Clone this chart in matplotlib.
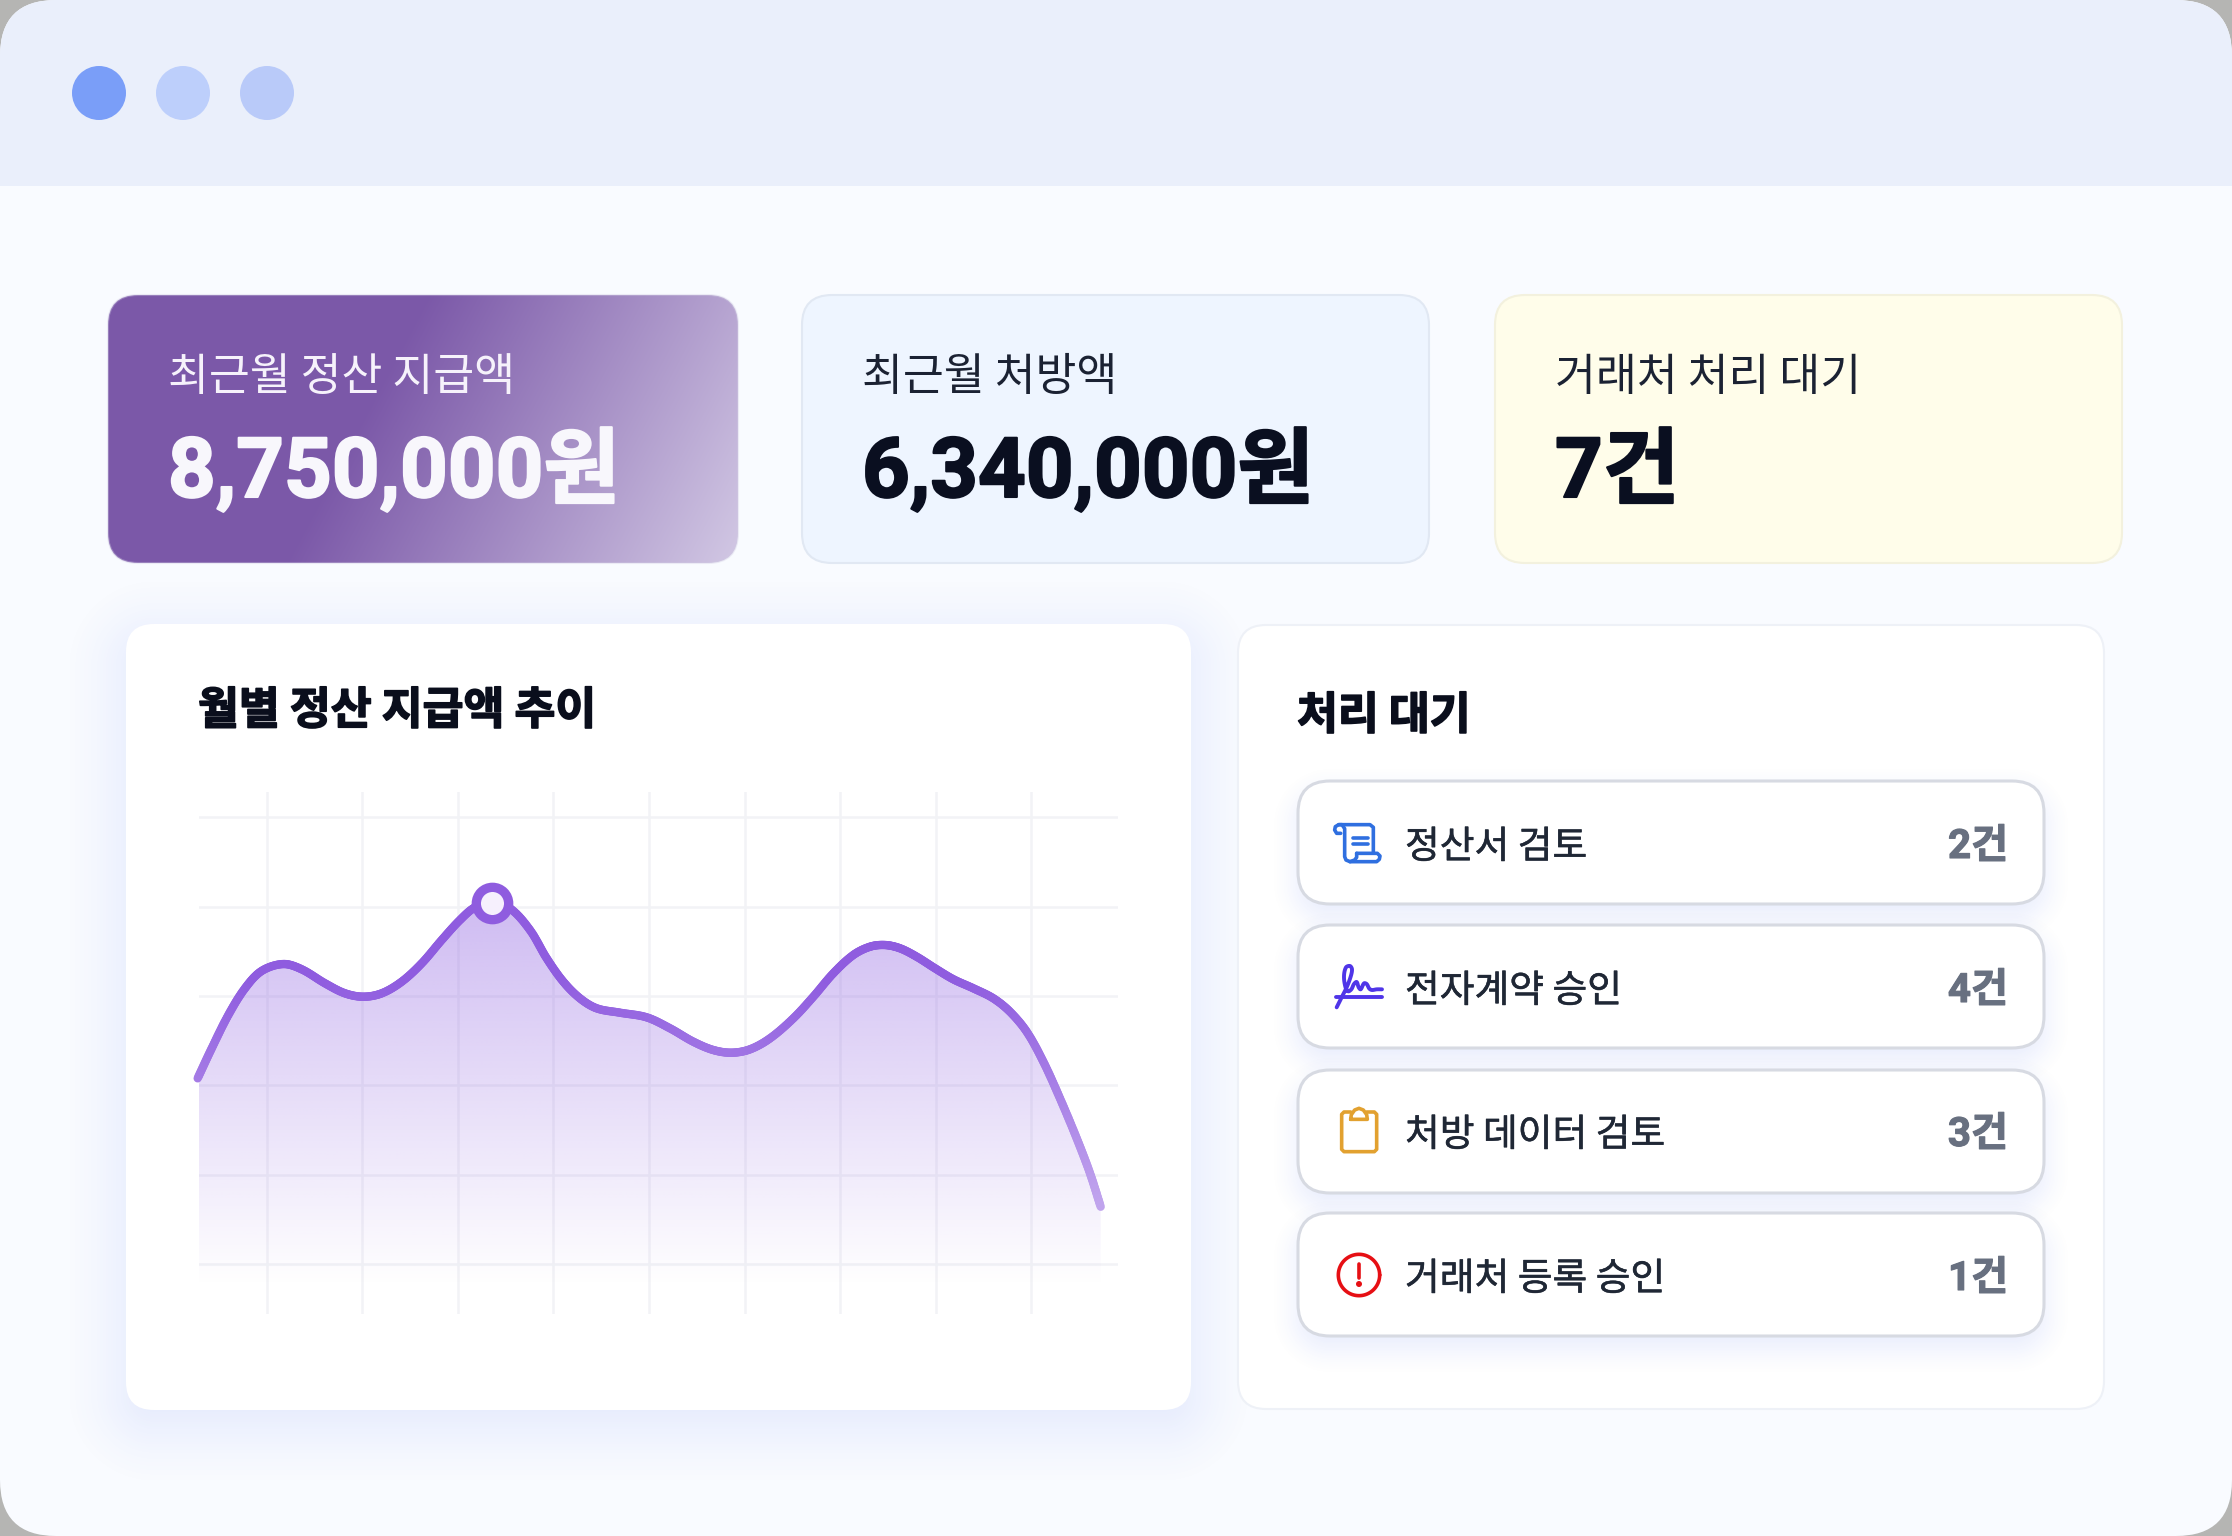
import numpy as np
import matplotlib
matplotlib.use('Agg')
import matplotlib.pyplot as plt
import matplotlib.patheffects as pe
from matplotlib.collections import LineCollection
from matplotlib.colors import to_rgb
from matplotlib.patches import Circle, FancyBboxPatch, Polygon, Rectangle

KR = ['Noto Sans CJK KR', 'DejaVu Sans']
NUM = ['Roboto', 'Noto Sans CJK KR', 'DejaVu Sans']
plt.rcParams['font.family'] = KR

W, H = 2232, 1536

# kpi cards
card_labels = ['최근월 정산 지급액', '최근월 처방액', '거래처 처리 대기']
card_values = ['8,750,000원', '6,340,000원', '7건']

# pending list
pending_names = ['정산서 검토', '전자계약 승인', '처방 데이터 검토', '거래처 등록 승인']
pending_counts = ['2건', '4건', '3건', '1건']

# monthly line, position in grid cells and height in grid rows
month_pos = [-0.014, 0.133, 0.307, 0.481, 0.656, 0.882, 1.074, 1.318, 1.527, 1.719, 1.911,
             2.12, 2.33, 2.539, 2.73, 2.887, 3.062, 3.253, 3.462, 3.637, 3.811, 3.985,
             4.16, 4.404, 4.683, 4.927, 5.171, 5.38, 5.572, 5.764, 5.973, 6.217, 6.426,
             6.635, 6.844, 7.019, 7.176, 7.333, 7.507, 7.699, 7.891, 8.1, 8.309, 8.483,
             8.658, 8.832, 9.006, 9.181, 9.32, 9.432]
month_val = [2.078, 2.414, 2.787, 3.086, 3.281, 3.358, 3.299, 3.142, 3.03, 2.992, 3.03,
             3.16, 3.366, 3.627, 3.851, 3.993, 4.045, 3.982, 3.739, 3.422, 3.16, 2.974,
             2.862, 2.813, 2.761, 2.638, 2.488, 2.395, 2.365, 2.403, 2.526, 2.75, 2.992,
             3.254, 3.459, 3.552, 3.571, 3.534, 3.44, 3.31, 3.187, 3.086, 2.974, 2.824,
             2.6, 2.264, 1.854, 1.406, 1.015, 0.64]
peak_pos, peak_val = 3.062, 4.045
grid_x = [0.707, 1.707, 2.707, 3.707, 4.707, 5.707, 6.707, 7.707, 8.707]
grid_y = [0, 1, 2, 3, 4, 5]


def round_box(x0, y0, x1, y1, r, **kw):
    return FancyBboxPatch((x0, y0), x1 - x0, y1 - y0,
                          boxstyle=f'round,pad=0,rounding_size={r}', **kw)


def soft_shadow(ax, box, r, blur, color, alpha, dy=0, zorder=1):
    # rounded box distance field with a smooth falloff
    x0, y0, x1, y1 = box
    y0, y1 = y0 + dy, y1 + dy
    pad = blur * 2
    xs = np.arange(int(x0 - pad), int(x1 + pad)) + 0.5
    ys = np.arange(int(y0 - pad), int(y1 + pad)) + 0.5
    xx, yy = np.meshgrid(xs, ys)
    qx = np.abs(xx - (x0 + x1) / 2) - (x1 - x0) / 2 + r
    qy = np.abs(yy - (y0 + y1) / 2) - (y1 - y0) / 2 + r
    d = np.hypot(np.maximum(qx, 0), np.maximum(qy, 0)) + np.minimum(np.maximum(qx, qy), 0) - r
    t = np.clip((d + blur) / (2 * blur), 0, 1)
    a = alpha * (1 - t * t * (3 - 2 * t))
    img = np.zeros(a.shape + (4,))
    img[..., :3] = to_rgb(color)
    img[..., 3] = a
    ax.imshow(img, extent=(xs[0] - 0.5, xs[-1] + 0.5, ys[-1] + 0.5, ys[0] - 0.5),
              origin='upper', aspect='auto', interpolation='bilinear', zorder=zorder)


def smooth(xp, yp, n=14):
    # hermite curve through the points, tangents by chord length
    p = np.column_stack([xp, yp]).astype(float)
    d = np.hypot(*np.diff(p, axis=0).T)[:, None]
    m = np.zeros_like(p)
    m[1:-1] = (p[2:] - p[:-2]) / (d[:-1] + d[1:])
    m[0] = (p[1] - p[0]) / d[0]
    m[-1] = (p[-1] - p[-2]) / d[-1]
    out = []
    u = np.linspace(0, 1, n, endpoint=False)[:, None]
    for i in range(len(p) - 1):
        h00 = 2 * u ** 3 - 3 * u ** 2 + 1
        h10 = u ** 3 - 2 * u ** 2 + u
        h01 = 3 * u ** 2 - 2 * u ** 3
        h11 = u ** 3 - u ** 2
        out.append(h00 * p[i] + h10 * d[i] * m[i] + h01 * p[i + 1] + h11 * d[i] * m[i + 1])
    out.append(p[-1][None, :])
    return np.vstack(out)


def heavy(width, color):
    # the source type is heavier than the installed bold
    return [pe.withStroke(linewidth=width, foreground=color)]


fig = plt.figure(figsize=(W / 100, H / 100), dpi=100, facecolor='#b5b5b3')
ax = fig.add_axes([0, 0, 1, 1])
ax.set_xlim(0, W)
ax.set_ylim(H, 0)
ax.axis('off')
ax.autoscale(False)

# window
window = round_box(0, 0, W, H, 56, fc='#f9fbff', ec='none', zorder=0)
ax.add_patch(window)
bar = Rectangle((0, 0), W, 186, fc='#eaeffb', ec='none', zorder=0.5)
ax.add_patch(bar)
bar.set_clip_path(window)
for cx, col in zip([99, 183, 267], ['#7a9ef8', '#bdcffb', '#b9caf9']):
    ax.add_patch(Circle((cx, 93), 27, fc=col, ec='none', zorder=1))

# kpi cards
cards = [(108, 738), (802, 1429), (1495, 2122)]
card_y = (295, 563)
card_face = [None, '#eef5ff', '#fffdea']
card_edge = [(0.82, 0.80, 0.89, 0.35), '#e1e8f3', '#f3f1de']
label_col = ['#f6f2fb', '#1b2233', '#1b2233']
value_col = ['#f8f7fc', '#0a0f20', '#0a0f20']

for i, (x0, x1) in enumerate(cards):
    if i == 0:
        xs = np.arange(x0, x1) + 0.5
        ys = np.arange(*card_y) + 0.5
        xx, yy = np.meshgrid(xs, ys)
        t = np.clip(((xx - 428) * 0.882 + (yy - 294) * 0.47) / 400, 0, 1)[..., None]
        img = (1 - t) * np.array(to_rgb('#7b58a8')) + t * np.array(to_rgb('#d2c8e4'))
        im = ax.imshow(img, extent=(x0, x1, card_y[1], card_y[0]), origin='upper',
                       aspect='auto', zorder=2)
        box = round_box(x0, card_y[0], x1, card_y[1], 30, fc='none', ec=card_edge[0],
                        lw=1.5, zorder=3)
        ax.add_patch(box)
        im.set_clip_path(box)
    else:
        ax.add_patch(round_box(x0, card_y[0], x1, card_y[1], 30, fc=card_face[i],
                               ec=card_edge[i], lw=1.5, zorder=2))
    ax.text(x0 + 60, 390, card_labels[i], fontsize=32, color=label_col[i], zorder=4)
    ax.text(x0 + 60, 497, card_values[i], fontsize=60, fontweight='bold', family=NUM,
            color=value_col[i], zorder=4, path_effects=heavy(1.5, value_col[i]))

# panels
soft_shadow(ax, (126, 624, 1191, 1410), 28, 70, '#4d6ef0', 0.15, dy=14, zorder=1)
ax.add_patch(round_box(126, 624, 1191, 1410, 28, fc='white', ec='none', zorder=2))
ax.add_patch(round_box(1238, 625, 2104, 1409, 28, fc='white', ec='#eef1f7', lw=1.5, zorder=2))
ax.text(198, 724, '월별 정산 지급액 추이', fontsize=32, fontweight='bold', color='#0a0e1c',
        zorder=4, path_effects=heavy(1.2, '#0a0e1c'))
ax.text(1297, 729, '처리 대기', fontsize=32, fontweight='bold', color='#0a0e1c',
        zorder=4, path_effects=heavy(1.2, '#0a0e1c'))

# pending rows
row_tops = [781, 925, 1070, 1213]
row_base = [858, 1002, 1146, 1290]
for top, base, name, count in zip(row_tops, row_base, pending_names, pending_counts):
    soft_shadow(ax, (1298, top, 2044, top + 123), 32, 30, '#4d6ef0', 0.14, dy=12, zorder=2.5)
    ax.add_patch(round_box(1298, top, 2044, top + 123, 32, fc='white', ec='#d7dae2',
                           lw=2.2, zorder=3))
    ax.text(1405, base, name, fontsize=27.2, color='#1f2735', zorder=4,
            path_effects=heavy(0.4, '#1f2735'))
    ax.text(2008, base, count, fontsize=29, fontweight='bold', family=NUM, color='#687080',
            ha='right', zorder=4, path_effects=heavy(0.8, '#687080'))


def icon_line(ox, oy, zx, zy, color, lw=2.3):
    # icon shapes noted in 3x crop units
    ax.plot(ox + np.array(zx) / 3, oy + np.array(zy) / 3, color=color, lw=lw,
            solid_capstyle='round', solid_joinstyle='round', zorder=5)


# scroll icon
c = '#2f6fe0'
icon_line(1320, 810, [62, 50, 44, 46, 56, 66, 74, 74, 78, 90, 104, 110, 110],
          [70, 70, 60, 50, 44, 44, 56, 140, 150, 155, 150, 142, 130], c, lw=2.6)
icon_line(1320, 810, [56, 150, 160, 160], [44, 44, 52, 128], c, lw=2.6)
icon_line(1320, 810, [110, 172, 180, 178, 170, 90], [130, 130, 138, 148, 155, 155], c, lw=2.6)
icon_line(1320, 810, [100, 145], [85, 85], c, lw=2.6)
icon_line(1320, 810, [100, 145], [103, 103], c, lw=2.6)

# signature icon
c = '#4f35e8'
sig = smooth([50, 66, 80, 92, 96, 90, 78, 72, 76, 84, 94, 102, 110, 116, 122, 132,
              140, 148, 156, 170, 186],
             [172, 140, 112, 80, 58, 48, 52, 78, 110, 124, 118, 102, 96, 112, 118, 100,
              102, 116, 120, 118, 118], n=6)
icon_line(1320, 950, sig[:, 0], sig[:, 1], c, lw=2.8)
icon_line(1320, 950, [48, 187], [140, 140], c, lw=2.8)

# clipboard icon
c = '#e2a130'
icon_line(1320, 1090, [92, 72, 65, 65, 72, 163, 170, 170, 163, 140],
          [66, 66, 73, 178, 185, 185, 178, 73, 66, 66], c, lw=2.6)
icon_line(1320, 1090, [92, 94, 104, 117, 130, 140, 142, 92],
          [88, 74, 60, 55, 60, 74, 88, 88], c, lw=2.6)

# alert icon
c = '#e60f14'
th = np.linspace(0, 2 * np.pi, 120)
icon_line(1320, 1235, 117 + 62 * np.cos(th), 120 + 62 * np.sin(th), c, lw=2.6)
icon_line(1320, 1235, [117, 117], [88, 128], c, lw=2.6)
ax.add_patch(Circle((1320 + 117 / 3, 1235 + 147 / 3), 3, fc=c, ec='none', zorder=5))

# chart axes, one grid cell is 95.6 x 89.3 px
x0_px, x1_px, y0_px, y1_px = 199, 1117.5, 792, 1314
chart = fig.add_axes([x0_px / W, 1 - y1_px / H, (x1_px - x0_px) / W, (y1_px - y0_px) / H],
                     zorder=5)
chart.patch.set_visible(False)
chart.set_xlim(0, (x1_px - x0_px) / 95.6)
chart.set_ylim((1263.9 - y1_px) / 89.3, (1263.9 - y0_px) / 89.3)
chart.set_xticks(grid_x)
chart.set_yticks(grid_y)
chart.tick_params(length=0, labelbottom=False, labelleft=False)
chart.grid(True, color='#f2f3f6', lw=1.8)
chart.set_axisbelow(True)
for s in chart.spines.values():
    s.set_visible(False)
chart.autoscale(False)

curve = smooth(month_pos, month_val)
fill_bottom = -0.25
grad = np.zeros((256, 2, 4))
grad[..., :3] = to_rgb('#8b5ce0')
grad[..., 3] = np.linspace(0.42, 0, 256)[:, None]
im = chart.imshow(grad, extent=(curve[0, 0], curve[-1, 0], fill_bottom, 4.1), origin='upper',
                  aspect='auto', interpolation='bilinear', zorder=2)
poly = Polygon(np.vstack([curve, [curve[-1, 0], fill_bottom], [curve[0, 0], fill_bottom]]),
               closed=True, transform=chart.transData, fc='none', ec='none')
poly.set_clip_on(False)
chart.add_patch(poly)
im.set_clip_path(poly)

# line fades to the bottom
base = np.array(to_rgb('#8f5cdf'))
seg = np.stack([curve[:-1], curve[1:]], axis=1)
mid = (curve[:-1, 1] + curve[1:, 1]) / 2
fade = np.clip((mid - 0.6) / 2.6, 0, 1)[:, None]
alpha = 0.55 + 0.45 * fade
cols = base * alpha + (1 - alpha)
chart.add_collection(LineCollection(seg, colors=cols, linewidths=6, capstyle='round',
                                    zorder=3, clip_on=False))
chart.plot([peak_pos], [peak_val], 'o', ms=23.3, mfc='#f6f0fd', mec='#8f5cdf', mew=6.7,
           zorder=4, clip_on=False)

fig.savefig('out.png', dpi=100, facecolor=fig.get_facecolor())
